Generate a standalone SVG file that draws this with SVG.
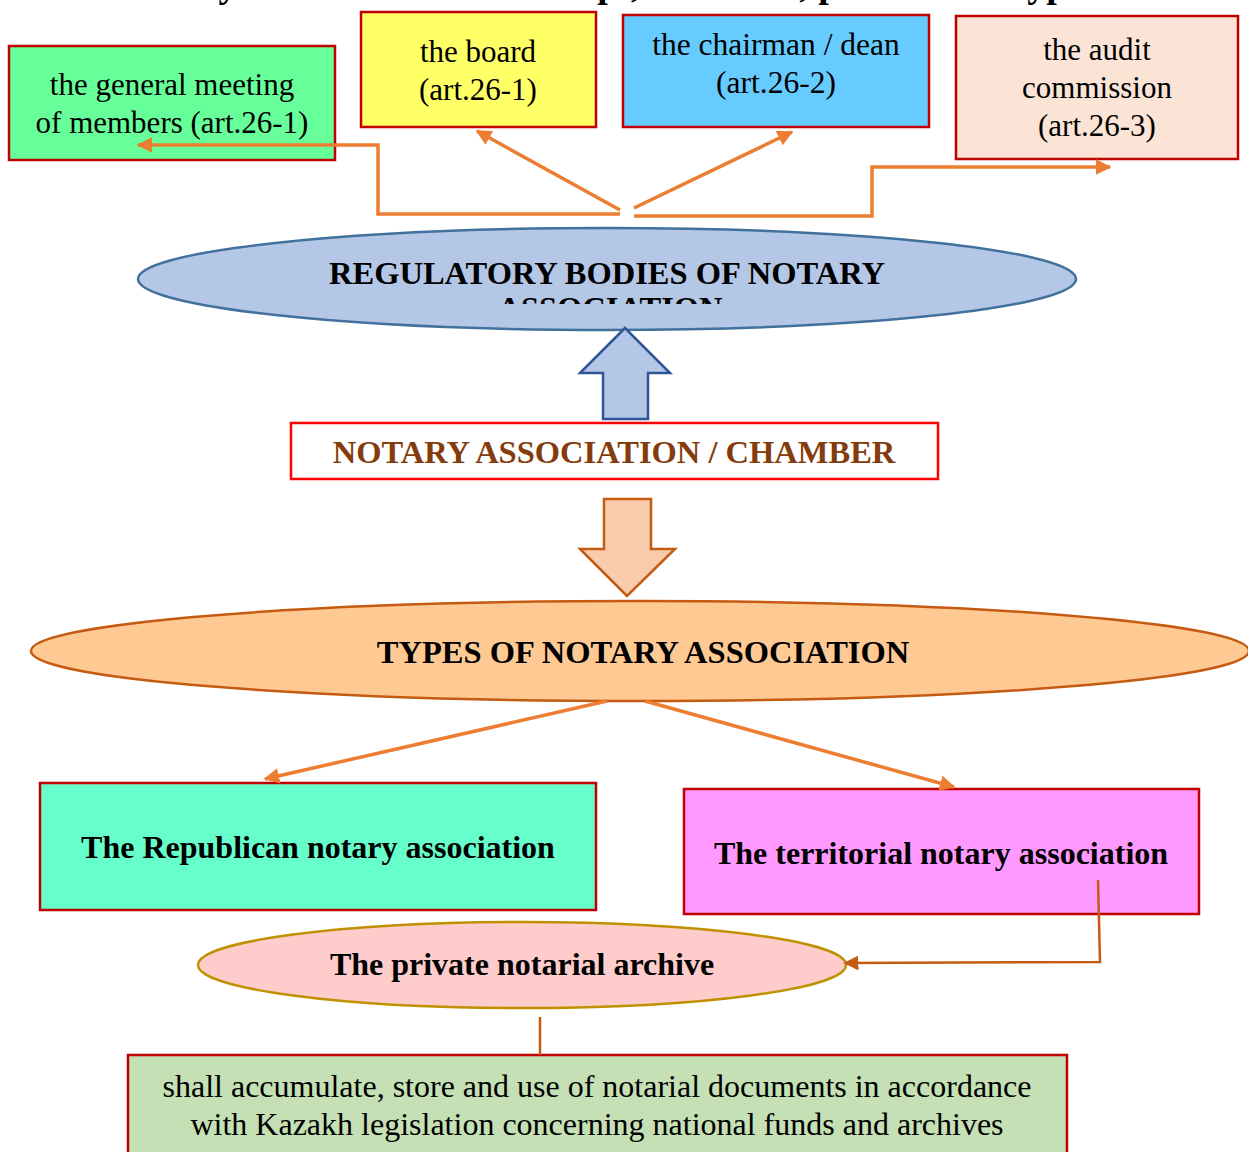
<svg xmlns="http://www.w3.org/2000/svg" width="1248" height="1152" viewBox="0 0 1248 1152">
  <style>
    .lbl { font-family: "Liberation Serif", "Times New Roman", serif; font-size: 31px; fill: #000; text-anchor: middle; }
    .bold { font-family: "Liberation Serif", "Times New Roman", serif; font-weight: bold; fill: #000; text-anchor: middle; }
    .box { stroke: #C00000; stroke-width: 2.5; }
    .link { fill: none; stroke: #ED7D31; stroke-width: 3.5; }
    .link2 { fill: none; stroke: #C55A11; stroke-width: 2.5; }
  </style>
  <defs>
    <marker id="ah" viewBox="0 0 10 10" refX="9" refY="5" markerWidth="4.5" markerHeight="4.5" orient="auto" markerUnits="strokeWidth">
      <path d="M0,0 L10,5 L0,10 z" fill="#ED7D31"/>
    </marker>
    <marker id="ah2" viewBox="0 0 10 10" refX="9" refY="5" markerWidth="6" markerHeight="6" orient="auto" markerUnits="strokeWidth">
      <path d="M0,0 L10,5 L0,10 z" fill="#C55A11"/>
    </marker>
    <clipPath id="clipReg">
      <rect x="130" y="228" width="960" height="76"/>
    </clipPath>
  </defs>

  <rect width="1248" height="1152" fill="#fff"/>

  <!-- heading, running off the top edge -->
  <text class="bold" x="616" y="-3" font-size="38">Notary association: the concept, structure, powers and types.</text>

  <g id="general-meeting">
    <rect class="box" x="9" y="46" width="326" height="114" fill="#66FF99"/>
    <text class="lbl" x="172" y="95">the general meeting</text>
    <text class="lbl" x="172" y="133">of members (art.26-1)</text>
  </g>

  <g id="board">
    <rect class="box" x="361" y="12" width="235" height="115" fill="#FFFF66"/>
    <text class="lbl" x="478" y="62">the board</text>
    <text class="lbl" x="478" y="100">(art.26-1)</text>
  </g>

  <g id="chairman">
    <rect class="box" x="623" y="15" width="306" height="112" fill="#66CCFF"/>
    <text class="lbl" x="776" y="55" style="font-size:31.5px">the chairman / dean</text>
    <text class="lbl" x="776" y="93" style="font-size:31.5px">(art.26-2)</text>
  </g>

  <g id="audit">
    <rect class="box" x="956" y="16" width="282" height="143" fill="#FBE4D5"/>
    <text class="lbl" x="1097" y="60">the audit</text>
    <text class="lbl" x="1097" y="98">commission</text>
    <text class="lbl" x="1097" y="136">(art.26-3)</text>
  </g>

  <g id="regulatory-bodies">
    <ellipse cx="607" cy="279" rx="469" ry="51" fill="#B4C7E7" stroke="#41719C" stroke-width="2.5"/>
    <g clip-path="url(#clipReg)">
      <text class="bold" x="607" y="284" font-size="32.5">REGULATORY BODIES OF NOTARY</text>
      <text class="bold" x="610" y="319" font-size="32.5">ASSOCIATION</text>
    </g>
  </g>

  <g id="arrow-up">
    <polygon points="625,328 580,373 603,373 603,419 648,419 648,373 670,373" fill="#B4C7E7" stroke="#2F5597" stroke-width="2.5"/>
  </g>

  <g id="notary-chamber">
    <rect x="291" y="423" width="647" height="56" fill="#fff" stroke="#FF0000" stroke-width="2.5"/>
    <text class="bold" x="614" y="463" font-size="32.5" style="fill:#843C0C">NOTARY ASSOCIATION / CHAMBER</text>
  </g>

  <g id="arrow-down">
    <polygon points="604,499 651,499 651,549 675,549 627,596 580,549 604,549" fill="#F8CBAD" stroke="#C55A11" stroke-width="2.5"/>
  </g>

  <g id="types">
    <ellipse cx="640" cy="651" rx="609" ry="50" fill="#FFC993" stroke="#C55A11" stroke-width="2.5"/>
    <text class="bold" x="643" y="663" font-size="32.5">TYPES OF NOTARY ASSOCIATION</text>
  </g>

  <g id="republican">
    <rect class="box" x="40" y="783" width="556" height="127" fill="#66FFCC"/>
    <text class="bold" x="318" y="858" font-size="32">The Republican notary association</text>
  </g>

  <g id="territorial">
    <rect class="box" x="684" y="789" width="515" height="125" fill="#FF99FF"/>
    <text class="bold" x="941" y="864" font-size="32">The territorial notary association</text>
  </g>

  <g id="private-archive">
    <ellipse cx="522" cy="965" rx="324" ry="43" fill="#FFCCCC" stroke="#BF9000" stroke-width="2.5"/>
    <text class="bold" x="522" y="975" font-size="32">The private notarial archive</text>
  </g>

  <g id="archive-duties">
    <rect class="box" x="128" y="1055" width="939" height="110" fill="#C5E0B4"/>
    <text class="lbl" x="597" y="1097" style="font-size:32px">shall accumulate, store and use of notarial documents in accordance</text>
    <text class="lbl" x="597" y="1135" style="font-size:32px">with Kazakh legislation concerning national funds and archives</text>
  </g>

  <!-- connectors, drawn over the boxes -->
  <g id="connectors">
    <polyline class="link" points="620,214 378,214 378,145 138,145" marker-end="url(#ah)"/>
    <line class="link" x1="620" y1="210" x2="477" y2="131" marker-end="url(#ah)"/>
    <line class="link" x1="634" y1="208" x2="792" y2="132" marker-end="url(#ah)"/>
    <polyline class="link" points="634,216 872,216 872,167 1110,167" marker-end="url(#ah)"/>
    <line class="link" x1="607" y1="701" x2="265" y2="779" marker-end="url(#ah)"/>
    <line class="link" x1="645" y1="701" x2="954" y2="787" marker-end="url(#ah)"/>
    <polyline class="link2" points="1098,880 1100,962 845,963" marker-end="url(#ah2)"/>
    <line class="link2" x1="540" y1="1017" x2="540" y2="1055"/>
  </g>
</svg>
